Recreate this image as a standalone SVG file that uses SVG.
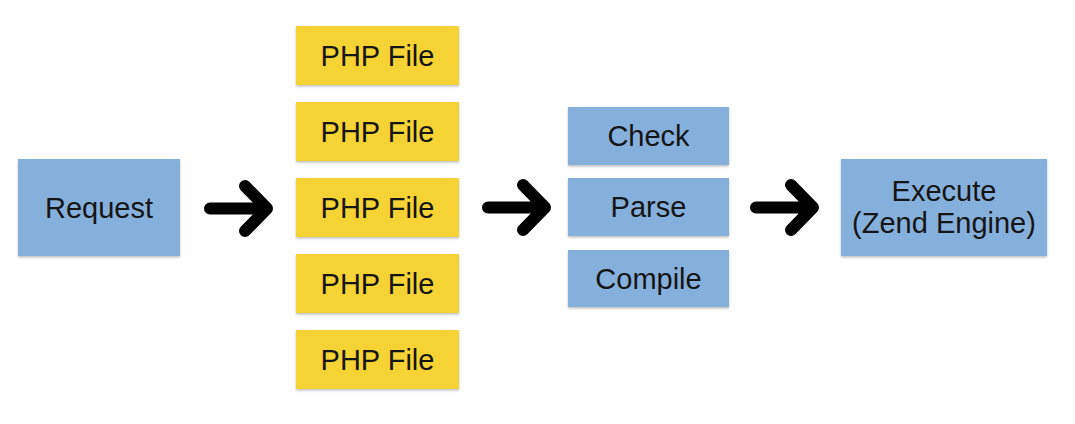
<svg xmlns="http://www.w3.org/2000/svg" width="1075" height="424" viewBox="0 0 1075 424">
<defs>
<filter id="sh" x="-5%" y="-10%" width="110%" height="130%">
<feDropShadow dx="0" dy="1.5" stdDeviation="1.2" flood-color="#000" flood-opacity="0.25"/>
</filter>
</defs>
<style>
.blue{fill:#86B0DC;filter:url(#sh)}
.yellow{fill:#F5D334;filter:url(#sh)}
.t{font-family:"Liberation Sans",Arial,sans-serif;font-size:29px;fill:#151515;text-anchor:middle}
.arr{fill:none;stroke:#000;stroke-width:12;stroke-linecap:round;stroke-linejoin:round}
</style>
<rect width="1075" height="424" fill="#fff"/>
<g id="request"><rect class="blue" x="18" y="159" width="162" height="97"/><text class="t" x="99" y="218">Request</text></g>
<g id="php1"><rect class="yellow" x="296" y="26" width="163" height="59"/><text class="t" x="377.5" y="65.5">PHP File</text></g>
<g id="php2"><rect class="yellow" x="296" y="102" width="163" height="59"/><text class="t" x="377.5" y="141.5">PHP File</text></g>
<g id="php3"><rect class="yellow" x="296" y="178" width="163" height="59"/><text class="t" x="377.5" y="217.5">PHP File</text></g>
<g id="php4"><rect class="yellow" x="296" y="254" width="163" height="59"/><text class="t" x="377.5" y="293.5">PHP File</text></g>
<g id="php5"><rect class="yellow" x="296" y="330" width="163" height="59"/><text class="t" x="377.5" y="369.5">PHP File</text></g>
<g id="check"><rect class="blue" x="568" y="107" width="161" height="58"/><text class="t" x="648.5" y="146">Check</text></g>
<g id="parse"><rect class="blue" x="568" y="178" width="161" height="58"/><text class="t" x="648.5" y="217">Parse</text></g>
<g id="compile"><rect class="blue" x="568" y="250" width="161" height="57"/><text class="t" x="648.5" y="288.5">Compile</text></g>
<g id="execute"><rect class="blue" x="841" y="159" width="206" height="97"/><text class="t" x="944" y="201">Execute</text><text class="t" x="944" y="233">(Zend Engine)</text></g>
<g id="connectors">
<path class="arr" d="M210 208.5H266M245 186L267 208.5L245 231"/>
<path class="arr" d="M488 207.5H544M523 185L545 207.5L523 230"/>
<path class="arr" d="M756 207.5H812M791 185L813 207.5L791 230"/>
</g>
</svg>
